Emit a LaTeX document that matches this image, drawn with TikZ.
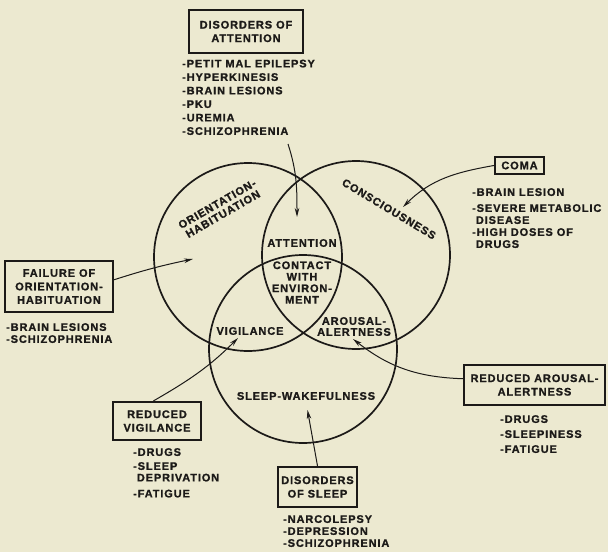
\documentclass[tikz,border=0pt]{standalone}
\usepackage{fontspec}
\setmainfont{Liberation Sans}[LetterSpace=8,BoldFeatures={FakeBold=1.2}]
\usepackage{xcolor}
\usetikzlibrary{arrows.meta}
\definecolor{paper}{RGB}{236,233,208}
\definecolor{ink}{RGB}{28,26,24}

\begin{document}
\begin{tikzpicture}[x=1pt,y=1pt,ink,
  font=\bfseries\fontsize{11}{12.5}\selectfont,
  ring/.style={draw=ink,line width=1.7pt},
  condbox/.style={draw=ink,line width=2.2pt,align=center,inner sep=1pt,
    font=\bfseries\fontsize{11}{13.5}\selectfont},
  symptoms/.style={anchor=north west,align=left,inner sep=0pt},
  area/.style={align=center,inner sep=0pt,font=\bfseries\fontsize{11}{11.5}\selectfont},
  conn/.style={draw=ink,line width=1pt,-{Stealth[length=9pt,width=4.5pt]}}]
  \fill[paper] (0,0) rectangle (608,-552);
  \useasboundingbox (0,0) rectangle (608,-552);

  \draw[ring] (248,-257) circle (94);
  \draw[ring] (356,-255) circle (94);
  \draw[ring] (303,-349) circle (94);

  \node[area,rotate=30] (orient) at (220,-209) {ORIENTATION-\\HABITUATION};
  \node[area,rotate=-31] (consc) at (389,-209) {CONSCIOUSNESS};
  \node[area] (attention) at (302,-243) {ATTENTION};
  \node[area] (contact) at (302,-282.5) {CONTACT\\WITH\\ENVIRON-\\MENT};
  \node[area] (vigil) at (250,-331) {VIGILANCE};
  \node[area,font=\bfseries\fontsize{11}{11}\selectfont] (alert) at (354,-326.5) {AROUSAL-\\ALERTNESS};
  \node[area] (sleep) at (306,-396) {SLEEP-WAKEFULNESS};

  \node[condbox,minimum width=114pt,minimum height=43pt] (attn) at (246,-31.5) {DISORDERS OF\\ATTENTION};
  \node[symptoms,font=\bfseries\fontsize{11}{13.5}\selectfont] (attnlist) at (182,-59.5)
    {-PETIT MAL EPILEPSY\\-HYPERKINESIS\\-BRAIN LESIONS\\-PKU\\-UREMIA\\-SCHIZOPHRENIA};
  \node[condbox,minimum width=49pt,minimum height=17pt] (coma) at (519.5,-165.5) {COMA};
  \node[symptoms,font=\bfseries\fontsize{11}{12}\selectfont] (comalist) at (472,-188)
    {-BRAIN LESION\\[4pt]-SEVERE METABOLIC\\\phantom{-}DISEASE\\-HIGH DOSES OF\\\phantom{-}DRUGS};
  \node[condbox,minimum width=108pt,minimum height=51pt] (fail) at (59,-286.5) {FAILURE OF\\ORIENTATION-\\HABITUATION};
  \node[symptoms,font=\bfseries\fontsize{11}{12}\selectfont] (faillist) at (6,-323)
    {-BRAIN LESIONS\\-SCHIZOPHRENIA};
  \node[condbox,minimum width=141pt,minimum height=40pt] (arous) at (534.5,-385) {REDUCED AROUSAL-\\ALERTNESS};
  \node[symptoms,font=\bfseries\fontsize{11}{15}\selectfont] (arouslist) at (500,-415)
    {-DRUGS\\-SLEEPINESS\\-FATIGUE};
  \node[condbox,minimum width=88pt,minimum height=38pt] (vig) at (157,-421) {REDUCED\\VIGILANCE};
  \node[symptoms,font=\bfseries\fontsize{11}{11.5}\selectfont] (viglist) at (133,-448)
    {-DRUGS\\[2.5pt]-SLEEP\\\phantom{-}DEPRIVATION\\[4.5pt]-FATIGUE};
  \node[condbox,minimum width=79pt,minimum height=40pt] (slp) at (317.5,-487) {DISORDERS\\OF SLEEP};
  \node[symptoms,font=\bfseries\fontsize{11}{12}\selectfont] (slplist) at (283,-515)
    {-NARCOLEPSY\\-DEPRESSION\\-SCHIZOPHRENIA};

  \coordinate (attnfrom) at (288,-144);
  \coordinate (attnto) at (297,-217);
  \coordinate (comato) at (403,-207);
  \coordinate (failto) at (193,-259);
  \coordinate (arousto) at (353,-339);
  \coordinate (vigto) at (238,-338);
  \coordinate (slpto) at (307.5,-410);

  \draw[conn] (attnfrom) to[out=-72,in=90] (attnto);
  \draw[conn] (coma.west) to[out=190,in=45] (comato);
  \draw[conn] (fail.7) to[bend left=3] (failto);
  \draw[conn] (arous.175) to[out=178,in=-38] (arousto);
  \draw[conn] (vig.100) to[out=30,in=-135] (vigto);
  \draw[conn] (slp.north) -- (slpto);
\end{tikzpicture}
\end{document}
